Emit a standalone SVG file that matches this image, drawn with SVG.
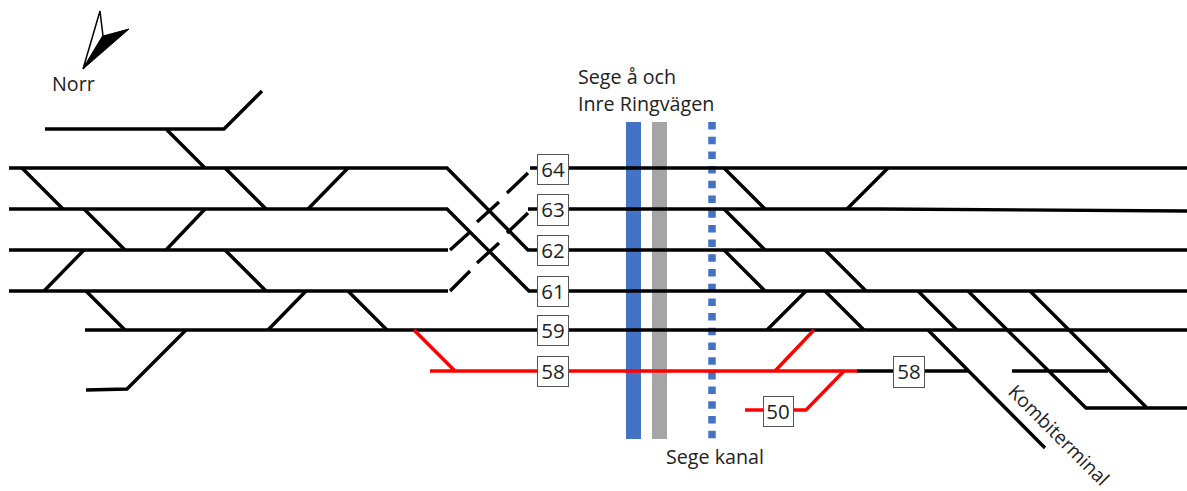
<svg xmlns="http://www.w3.org/2000/svg" width="1187" height="491" viewBox="0 0 1187 491">
<style>
text{font-family:"Open Sans","Noto Sans","Liberation Sans",sans-serif;font-size:19.700px;fill:#222}
.t{fill:none;stroke:#000;stroke-width:3.400;stroke-linejoin:miter}
.r{fill:none;stroke:#f00;stroke-width:3.400}
.b rect{fill:#fff;stroke:#555;stroke-width:1}
.b text{text-anchor:middle;font-size:20.500px}
.k{font-size:19.200px}
</style>
<rect width="1187" height="491" fill="#fff"/>
<g id="water">
<rect x="626" y="122" width="15" height="317" fill="#4472c4"/>
<rect x="652" y="122" width="15" height="317" fill="#a5a5a5"/>
<line x1="712" y1="122" x2="712" y2="439" stroke="#4472c4" stroke-width="7.500" stroke-dasharray="7.500 7.200"/>
</g>
<g id="connectors">
<g class="t">
<path d="M45 129H224L262 91M167 130L205 168"/>
<path d="M9 168H447L528 250H540M9 209H447L529 291H540M9 250H448M9 291H448"/>
<path d="M450 291L470 271M477 263L499 243M507 233L528 213M528 209H540M450 250L470 232M477 222L499 202M507 193L528 173M530 168H540"/>
<path d="M537 168H1187M537 209H880L1187 211M537 250H1187M537 291H1187M85 330H1187"/>
<path d="M22 168L63 209M84 209L125 250M205 209L166 250M225 168L266 209M348 168L308 209M84 250L44 291M225 250L266 291M86 291L125 330M306 291L268 330M348 291L387 330M186 330L127 389L86 390"/>
<path d="M724 168L765 209M888 168L847 209M724 209L765 250M724 250L765 291M825 250L866 291M806 291L767 330M825 291L864 330M918 291L957 330M968 291L1086 408H1187M1030 291L1147 408M928 330L1045 448M857 371H968M1012 371H1108"/>
</g>
<g class="r">
<path d="M430 371H857M414 330L455 371M775 371L814 330M745 410H806L844 371"/>
</g>
</g>
<g id="compass">
<polygon points="100,11 103,36 83,69" fill="#fff" stroke="#000" stroke-width="1.500"/>
<polygon points="103,36 129,29 83,69" fill="#000" stroke="#000" stroke-width="1"/>
</g>
<g id="n64" class="b"><rect x="537.500" y="154.500" width="31" height="30"/><text x="553" y="177">64</text></g>
<g id="n63" class="b"><rect x="537.500" y="194.500" width="31" height="31"/><text x="553" y="217">63</text></g>
<g id="n62" class="b"><rect x="537.500" y="235.500" width="31" height="30"/><text x="553" y="258">62</text></g>
<g id="n61" class="b"><rect x="537.500" y="276.500" width="31" height="30"/><text x="553" y="299">61</text></g>
<g id="n59" class="b"><rect x="537.500" y="315.500" width="31" height="30"/><text x="553" y="338">59</text></g>
<g id="n58a" class="b"><rect x="537.500" y="356.500" width="31" height="30"/><text x="553" y="379">58</text></g>
<g id="n58b" class="b"><rect x="893.500" y="356.500" width="31" height="31"/><text x="909" y="379">58</text></g>
<g id="n50" class="b"><rect x="763.500" y="396.500" width="30" height="30"/><text x="778" y="419">50</text></g>
<g id="labels">
<text x="52" y="91">Norr</text>
<text x="578" y="84">Sege å och</text>
<text x="578" y="111">Inre Ringvägen</text>
<text x="666" y="464">Sege kanal</text>
<text class="k" transform="translate(1007 393) rotate(45)">Kombiterminal</text>
</g>
</svg>
